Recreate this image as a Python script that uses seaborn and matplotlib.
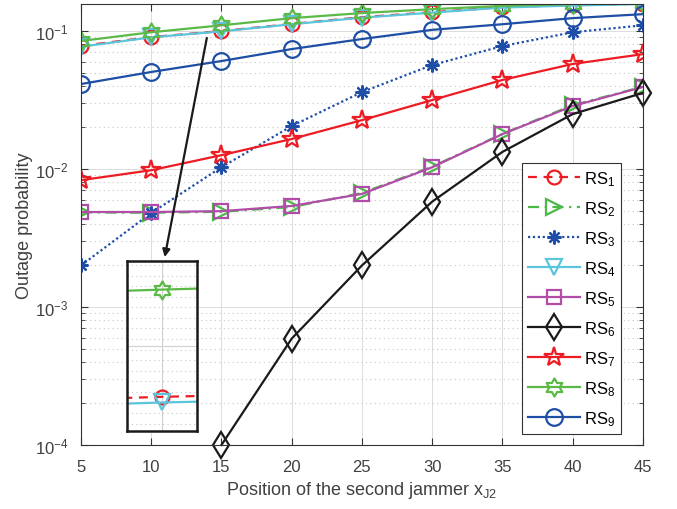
import numpy as np
import matplotlib
matplotlib.use("Agg")
import matplotlib.pyplot as plt
import matplotlib.path as mpath
from matplotlib.ticker import LogLocator, MultipleLocator, NullFormatter
import seaborn as sns

plt.rcParams["font.family"] = ["Liberation Sans", "DejaVu Sans"]
plt.rcParams["mathtext.fontset"] = "custom"
plt.rcParams["mathtext.rm"] = "Liberation Sans"
plt.rcParams["mathtext.it"] = "Liberation Sans:italic"
plt.rcParams["mathtext.default"] = "regular"

# data
x = [5, 10, 15, 20, 25, 30, 35, 40, 45]
rs1 = [0.078, 0.0904, 0.100, 0.1125, 0.126, 0.137, 0.149, 0.154, 0.158]
rs2 = [0.00485, 0.00482, 0.0049, 0.0053, 0.0067, 0.0104, 0.0180, 0.0290, 0.0395]
rs3 = [0.0020, 0.0048, 0.0103, 0.0205, 0.0361, 0.0567, 0.0778, 0.098, 0.110]
rs4 = [0.077, 0.0900, 0.0995, 0.112, 0.125, 0.136, 0.148, 0.153, 0.157]
rs5 = [0.00488, 0.00488, 0.00495, 0.0054, 0.0066, 0.0103, 0.0179, 0.0286, 0.0393]
rs6 = [np.nan, np.nan, 1.0e-4, 5.9e-4, 0.0020, 0.0058, 0.0133, 0.025, 0.0356]
rs7 = [0.0083, 0.0098, 0.0126, 0.0165, 0.0226, 0.0316, 0.0442, 0.0577, 0.068]
rs8 = [0.0847, 0.098, 0.110, 0.124, 0.135, 0.144, 0.152, 0.157, 0.159]
rs9 = [0.0413, 0.0505, 0.0606, 0.074, 0.0875, 0.102, 0.112, 0.124, 0.1325]
labels = ["RS$_1$", "RS$_2$", "RS$_3$", "RS$_4$", "RS$_5$",
          "RS$_6$", "RS$_7$", "RS$_8$", "RS$_9$"]

hexagram = mpath.Path.unit_regular_star(6, 1 / np.sqrt(3))

styles = [
    dict(color="#ED1C24", marker="o", ls=(0, (4, 3)), ms=10),
    dict(color="#4DB848", marker=">", ls=(0, (5, 2.5, 1, 2.5)), ms=11),
    dict(color="#1F4EA8", marker=(8, 2, 0), ls=(0, (1, 1.2)), ms=10),
    dict(color="#5BC5DC", marker="v", ls="-", ms=11),
    dict(color="#B04DA8", marker="s", ls="-", ms=10),
    dict(color="#1A1A1A", marker="d", ls="-", ms=13),
    dict(color="#ED1C24", marker="*", ls="-", ms=15),
    dict(color="#5BBA47", marker=hexagram, ls="-", ms=13),
    dict(color="#1E4FA5", marker="o", ls="-", ms=12),
]
series = [rs1, rs2, rs3, rs4, rs5, rs6, rs7, rs8, rs9]

fig = plt.figure(figsize=(6.77, 5.10), dpi=100)
ax = fig.add_axes([0.1196, 0.1255, 0.830, 0.8647])


def draw(ax, with_label=True):
    for vals, st, lab in zip(series, styles, labels):
        sns.lineplot(x=x, y=vals, ax=ax, color=st["color"], marker=st["marker"],
                     linestyle=st["ls"], markersize=st["ms"], markerfacecolor="none",
                     markeredgecolor=st["color"], markeredgewidth=1.6, linewidth=1.6,
                     label=lab if with_label else None,
                     clip_on=(lab != "RS$_6$"))


draw(ax)

ax.set_yscale("log")
ax.set_xlim(5, 45)
ax.set_ylim(1e-4, 0.157)
ax.xaxis.set_major_locator(MultipleLocator(5))
ax.yaxis.set_major_locator(LogLocator(base=10, numticks=10))
ax.yaxis.set_minor_locator(LogLocator(base=10, subs=np.arange(2, 10), numticks=20))
ax.yaxis.set_minor_formatter(NullFormatter())
ax.grid(True, which="major", color="#dcdcdc", linewidth=0.7, linestyle="-")
ax.grid(True, which="minor", axis="y", color="#c8c8c8", linewidth=0.8, linestyle=(0, (1, 3)))
ax.set_axisbelow(True)
ax.tick_params(which="both", direction="in", top=True, right=True,
               colors="#333333", labelsize=12, labelcolor="#404040")
ax.tick_params(which="major", length=5)
ax.tick_params(which="minor", length=3)
ax.tick_params(axis="x", which="major", pad=10)
ax.tick_params(axis="y", which="major", pad=9)
for s in ax.spines.values():
    s.set_color("#333333")
    s.set_linewidth(0.8)

ax.set_xlabel("Position of the second jammer x$_{J2}$", fontsize=13, color="#404040")
ax.set_ylabel("Outage probability", fontsize=13, color="#404040")
ax.xaxis.set_label_coords(0.5, -0.077)
ax.yaxis.set_label_coords(-0.085, 0.5)

leg = ax.legend(loc="upper left", bbox_to_anchor=(0.785, 0.639), fontsize=12,
                handlelength=3.1, labelspacing=0.68, handletextpad=0.25,
                borderpad=0.35, borderaxespad=0, fancybox=False, framealpha=1,
                edgecolor="#333333")
leg.get_frame().set_linewidth(0.8)

# zoomed inset around x = 10
ax_in = fig.add_axes([0.187, 0.1535, 0.1043, 0.332])
draw(ax_in, with_label=False)
ax_in.set_xlim(9.97, 10.03)
ax_in.set_ylim(0.088, 0.1)
ax_in.set_xticks([10])
ax_in.set_yticks([0.094])
ax_in.yaxis.set_minor_locator(MultipleLocator(0.00075))
ax_in.grid(True, which="major", color="#d0d0d0", linewidth=0.8)
ax_in.grid(True, which="minor", axis="y", color="#c8c8c8", linewidth=0.8, linestyle=(0, (1, 3)))
ax_in.set_axisbelow(True)
ax_in.tick_params(which="both", length=0, labelbottom=False, labelleft=False)
for s in ax_in.spines.values():
    s.set_color("#1a1a1a")
    s.set_linewidth(1.8)
if ax_in.get_legend():
    ax_in.get_legend().remove()

ax.annotate("", xy=(0.149, 0.426), xycoords="axes fraction",
            xytext=(0.224, 0.923), textcoords="axes fraction",
            arrowprops=dict(arrowstyle="-|>", color="#1a1a1a", lw=1.6,
                            mutation_scale=11, shrinkA=0, shrinkB=0))

fig.savefig("out.png", dpi=100)
